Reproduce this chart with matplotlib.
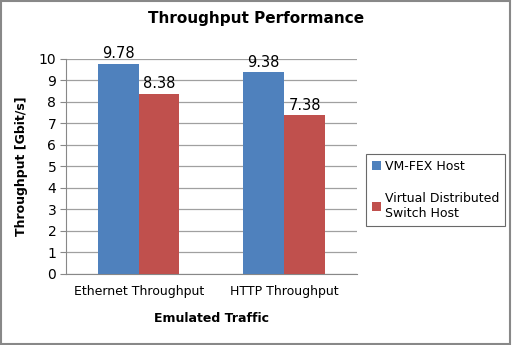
import matplotlib
matplotlib.use("Agg")
import matplotlib.pyplot as plt
from matplotlib.patches import Rectangle
import numpy as np

categories = ["Ethernet Throughput", "HTTP Throughput"]
series_names = ["VM-FEX Host", "Virtual Distributed\nSwitch Host"]
vmfex = [9.78, 9.38]
vds = [8.38, 7.38]
colors = ["#4F81BD", "#C0504D"]

plt.rcParams["font.family"] = ["DejaVu Sans"]

fig = plt.figure(figsize=(5.12, 3.45), dpi=100)
ax = fig.add_axes([0.129, 0.206, 0.568, 0.623])

x = np.arange(len(categories))
w = 0.28
b1 = ax.bar(x - w / 2, vmfex, w, color=colors[0], label=series_names[0], zorder=3)
b2 = ax.bar(x + w / 2, vds, w, color=colors[1], label=series_names[1], zorder=3)

for bars, vals in ((b1, vmfex), (b2, vds)):
    for r, v in zip(bars, vals):
        ax.text(r.get_x() + r.get_width() / 2, v + 0.12, f"{v:.2f}",
                ha="center", va="bottom", fontsize=10.5)

ax.set_xlim(-0.5, 1.5)
ax.set_ylim(0, 10)
ax.set_yticks(range(0, 11))
ax.set_xticks(x)
ax.set_xticklabels(categories, fontsize=9)
ax.tick_params(axis="y", labelsize=10, length=4, color="#888888", pad=3)
ax.tick_params(axis="x", length=0, pad=8)
ax.grid(axis="y", color="#a0a0a0", linewidth=0.9, zorder=0)
for s in ["top", "right"]:
    ax.spines[s].set_visible(False)
for s in ["left", "bottom"]:
    ax.spines[s].set_color("#888888")

ax.set_ylabel("Throughput [Gbit/s]", fontsize=9, fontweight="bold", labelpad=8)
ax.set_xlabel("Emulated Traffic", fontsize=9, fontweight="bold", labelpad=10)
fig.text(0.5, 0.945, "Throughput Performance", ha="center", va="center",
         fontsize=11, fontweight="bold")

leg = ax.legend(loc="center left", bbox_to_anchor=(1.01, 0.39), fontsize=9,
                frameon=True, fancybox=False, edgecolor="#444444",
                handlelength=0.7, handleheight=0.7, handletextpad=0.3,
                labelspacing=1.5, borderpad=0.5)
leg.get_frame().set_linewidth(0.8)

fig.patches.append(Rectangle((0.002, 0.003), 0.995, 0.993, transform=fig.transFigure,
                             fill=False, edgecolor="#888888", linewidth=1.5))

fig.savefig("out.png", dpi=100)
